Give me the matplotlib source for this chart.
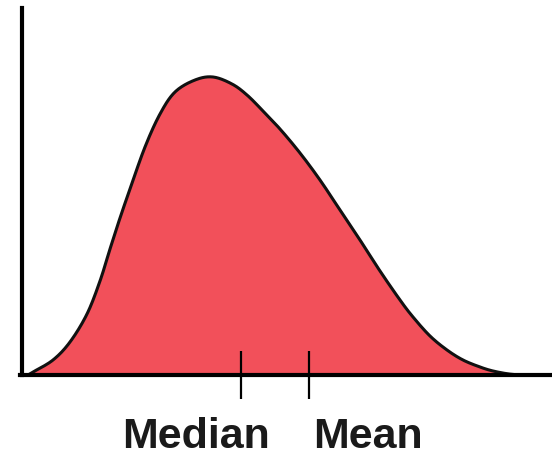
import numpy as np
import matplotlib
matplotlib.use("Agg")
import matplotlib.pyplot as plt

# Curve (x position, density height)
x_pts = [28, 33, 53, 70, 87, 100, 110, 120, 130, 145, 160, 175, 195, 213,
         232, 247, 263, 280, 300, 320, 340, 360, 380, 400, 413, 430, 447, 463,
         480, 493, 509, 522]
h_pts = [0, 3, 15, 33, 61, 94, 126, 157, 186, 228, 261, 283, 295, 298,
         291, 280, 264, 246, 222, 195, 165, 135, 104, 75, 58, 39, 25, 15,
         8, 4, 1, 0]
tick_positions = [241, 309]
labels = ["Median", "Mean"]
label_x = [196, 368]


def catmull_rom(xs, ys, n=20):
    P = np.column_stack([xs, ys]).astype(float)
    P = np.vstack([P[0], P, P[-1]])
    out = []
    for i in range(1, len(P) - 2):
        p0, p1, p2, p3 = P[i - 1], P[i], P[i + 1], P[i + 2]
        t = np.linspace(0, 1, n, endpoint=False)[:, None]
        seg = 0.5 * ((2 * p1) + (-p0 + p2) * t + (2 * p0 - 5 * p1 + 4 * p2 - p3) * t ** 2
                     + (-p0 + 3 * p1 - 3 * p2 + p3) * t ** 3)
        out.append(seg)
    out.append(P[-2][None, :])
    S = np.vstack(out)
    return S[:, 0], S[:, 1]


xs, ys = catmull_rom(x_pts, h_pts)
ys = np.clip(ys, 0, None)

fig = plt.figure(figsize=(5.52, 4.58), dpi=100)
ax = fig.add_axes([0, 0, 1, 1])
ax.set_xlim(0, 552)
ax.set_ylim(-83, 375)

ax.fill_between(xs, 0, ys, color="#F2505A", zorder=1)
ax.plot(xs, ys, color="#111111", lw=2.2, zorder=2, solid_capstyle="round")

for s in ["top", "right"]:
    ax.spines[s].set_visible(False)
ax.spines["left"].set_position(("data", 22))
ax.spines["left"].set_bounds(0, 367)
ax.spines["bottom"].set_position(("data", 0))
ax.spines["bottom"].set_bounds(20, 552)
for s in ["left", "bottom"]:
    ax.spines[s].set_linewidth(3)
    ax.spines[s].set_color("black")
    ax.spines[s].set_zorder(3)

ax.set_yticks([])
ax.set_xticks(tick_positions)
ax.set_xticklabels([])
ax.tick_params(axis="x", direction="inout", length=35, width=1.6, color="black")

for lx, lab in zip(label_x, labels):
    ax.text(lx, -73, lab, ha="center", va="baseline", fontsize=31,
            fontweight="bold", family="Liberation Sans", color="#1a1a1a")

fig.savefig("out.png", dpi=100, facecolor="white")
